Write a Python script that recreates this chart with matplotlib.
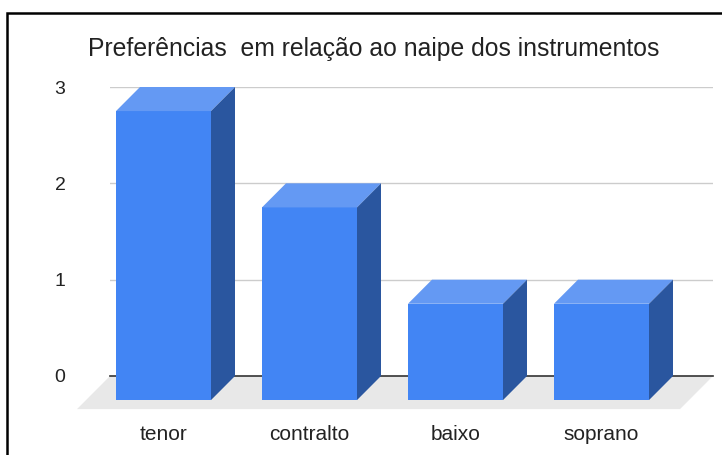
import matplotlib
matplotlib.use("Agg")
import matplotlib.pyplot as plt
from matplotlib.patches import Polygon, Rectangle

# Data
categories = ['tenor', 'contralto', 'baixo', 'soprano']
values = [3, 2, 1, 1]
y_ticks = [0, 1, 2, 3]
title = 'Preferências  em relação ao naipe dos instrumentos'

front_color = '#4285f4'
top_color = '#6499f3'
side_color = '#2a569f'
floor_color = '#e8e8e8'

plt.rcParams['font.family'] = ['Liberation Sans', 'DejaVu Sans']

W, H = 722, 455
fig = plt.figure(figsize=(W / 100, H / 100), dpi=100)
# back plane of the chart area
ax = fig.add_axes([110 / W, (H - 376) / H, 603 / W, 289 / H])

x0 = -53.5 / 146
x1 = 549.5 / 146
ax.set_xlim(x0, x1)
ax.set_ylim(0, 3)

# fake 3d depth in data units
bar_w = 95 / 146
dx, dy = 24 / 146, 24 / 96
fdx, fdy = 33 / 146, 33 / 96

# floor
ax.add_patch(Polygon([(x0, 0), (x1, 0), (x1 - fdx, -fdy), (x0 - fdx, -fdy)],
                     closed=True, facecolor=floor_color, edgecolor='none',
                     clip_on=False, zorder=1))

# grid lines and baseline
for t in y_ticks[1:]:
    ax.axhline(t, color='#cccccc', linewidth=1, zorder=1)
ax.axhline(0, color='#333333', linewidth=1.2, zorder=2, clip_on=False)

# front faces
xs = list(range(len(categories)))
ax.bar(xs, values, width=bar_w, bottom=-dy, color=front_color,
       zorder=3, clip_on=False)

# top and side faces
for x, v in zip(xs, values):
    l, r = x - bar_w / 2, x + bar_w / 2
    top = v - dy
    ax.add_patch(Polygon([(l, top), (r, top), (r + dx, v), (l + dx, v)],
                         closed=True, facecolor=top_color, edgecolor='none',
                         clip_on=False, zorder=3))
    ax.add_patch(Polygon([(r, -dy), (r + dx, 0), (r + dx, v), (r, top)],
                         closed=True, facecolor=side_color, edgecolor='none',
                         clip_on=False, zorder=3))

ax.set_yticks(y_ticks)
ax.set_yticklabels([str(t) for t in y_ticks], fontsize=14, color='#222222')
ax.set_xticks(xs)
ax.set_xticklabels(categories, fontsize=15, color='#222222')
ax.tick_params(axis='y', length=0, pad=32)
ax.tick_params(axis='x', length=0, pad=35)
for s in ax.spines.values():
    s.set_visible(False)
ax.patch.set_alpha(0)

fig.text(88 / W, 1 - 49 / H, title, fontsize=17.8, color='#222222',
         ha='left', va='center')

# outer border
fig.patches.append(Rectangle((7 / W, -0.1), 1.2, 1 - 13 / H + 0.1,
                             transform=fig.transFigure, fill=False,
                             edgecolor='black', linewidth=1.8))

fig.savefig('out.png', dpi=100)
